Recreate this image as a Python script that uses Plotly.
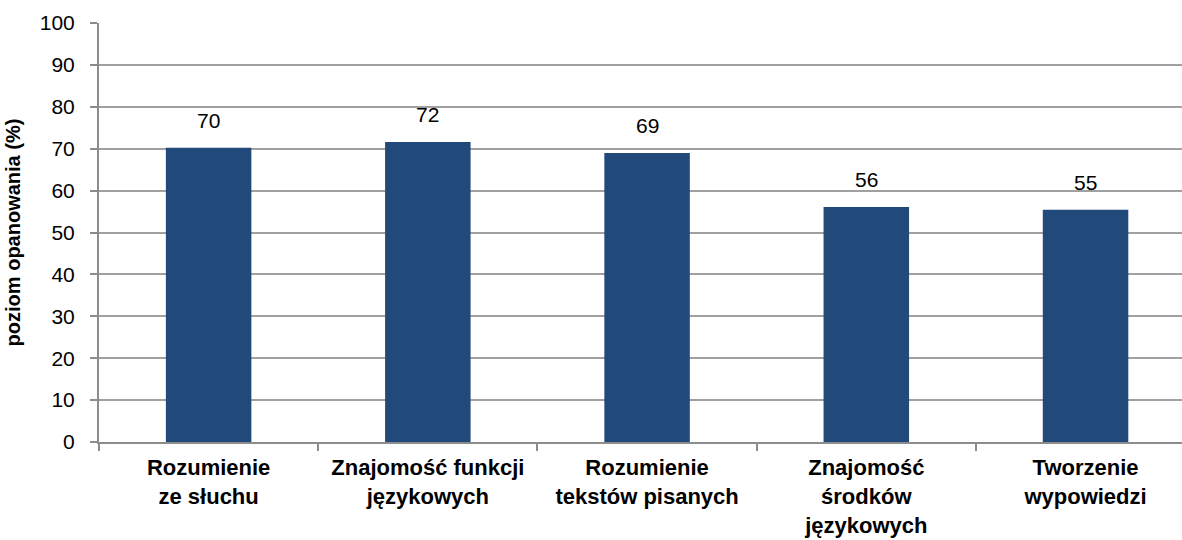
import plotly.graph_objects as go

categories = ["Rozumienie<br>ze słuchu", "Znajomość funkcji<br>językowych", "Rozumienie<br>tekstów pisanych",
              "Znajomość<br>środków<br>językowych", "Tworzenie<br>wypowiedzi"]
values = [70.2, 71.6, 69.0, 56.1, 55.4]
labels = ["70", "72", "69", "56", "55"]
y_ticks = list(range(0, 101, 10))

FONT = "Liberation Sans, Arial, sans-serif"

fig = go.Figure()
fig.add_trace(go.Bar(
    x=categories, y=values,
    marker=dict(color="#214A7B", line=dict(width=0)),
    width=0.39, hoverinfo="skip",
))
for c, v, t in zip(categories, values, labels):
    fig.add_annotation(x=c, y=v, text=t, showarrow=False, yanchor="bottom", yshift=14,
                       font=dict(size=21, color="black", family=FONT))

fig.update_layout(
    width=1182, height=540,
    margin=dict(l=99, r=0, t=23, b=98),
    plot_bgcolor="white", paper_bgcolor="white",
    font=dict(family=FONT, color="black", size=21),
    showlegend=False,
    xaxis=dict(range=[-0.5, 4.44], showline=True, linecolor="#8c8c8c", linewidth=2,
               ticks="outside", tickson="boundaries", ticklen=7, tickcolor="#8c8c8c", tickwidth=2,
               tickfont=dict(size=22, family=FONT, weight="bold"), ticklabelstandoff=5,
               showgrid=False, automargin=False),
    yaxis=dict(range=[0, 100], tickvals=y_ticks, showline=True, linecolor="#8c8c8c", linewidth=2,
               ticks="outside", ticklen=7, tickcolor="#8c8c8c", tickwidth=2,
               showgrid=True, gridcolor="#a0a0a0", gridwidth=1.5,
               tickfont=dict(size=21), automargin=False, ticklabelstandoff=11,
               title=dict(text="poziom opanowania (%)", font=dict(size=20, weight="bold"), standoff=14)),
)
fig.write_html("out.html", config={"displayModeBar": False},
               post_script="document.body.style.margin='0';document.body.style.overflow='hidden';")
